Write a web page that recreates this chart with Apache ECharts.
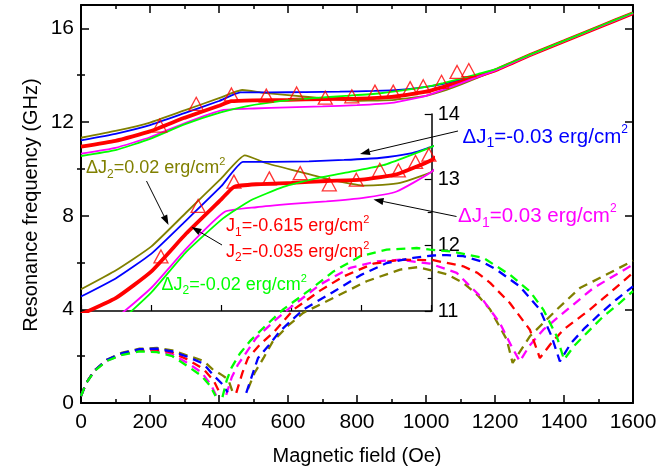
<!DOCTYPE html>
<html><head><meta charset="utf-8">
<script src="https://cdn.jsdelivr.net/npm/echarts@6/dist/echarts.min.js"></script>
<style>html,body{margin:0;padding:0;background:#fff}#c{width:672px;height:474px}</style>
</head><body><div id="c"></div>
<script>
// ---- Solid curves (upper mode): field (Oe) / frequency (GHz)
const hOlive = [0,100,200,300,400,467,529,624,710,767,805,860,910,967,1000,1050,1100,1150,1200,1300,1400,1500,1600];
const fOlive = [11.33,11.62,11.98,12.5,13.02,13.37,13.25,13.12,13.0,12.94,12.91,12.92,12.95,13.05,13.12,13.33,13.6,13.9,14.2,14.85,15.45,16.05,16.65];
const hBlue = [0,100,200,300,400,462,550,650,750,850,940,1000,1050,1100,1150,1200,1300,1400,1500,1600];
const fBlue = [11.22,11.5,11.87,12.38,12.9,13.27,13.27,13.28,13.3,13.33,13.4,13.5,13.63,13.8,14.0,14.22,14.85,15.45,16.05,16.65];
const hRed = [0,100,200,300,400,436,500,600,700,800,900,1000,1050,1100,1150,1200,1300,1400,1500,1600];
const fRed = [10.95,11.2,11.6,12.18,12.7,12.89,12.93,12.95,12.98,13.0,13.08,13.3,13.5,13.72,13.96,14.2,14.85,15.45,16.05,16.65];
const hMag = [0,100,200,300,410,500,600,700,800,900,1000,1050,1100,1150,1200,1300,1400,1500,1600];
const fMag = [10.65,10.9,11.35,11.95,12.51,12.58,12.63,12.67,12.72,12.82,13.12,13.38,13.65,13.93,14.2,14.85,15.45,16.05,16.65];
const hGreen = [0,100,200,300,405,482,577,672,767,862,1000,1050,1100,1150,1200,1300,1400,1500,1600];
const fGreen = [10.55,10.8,11.28,11.9,12.41,12.68,12.89,13.02,13.12,13.22,13.5,13.66,13.85,14.05,14.25,14.87,15.47,16.07,16.67];

// ---- Dashed curves (lower mode); null = gap
const hLoOlive = [0,15,40,75,120,170,220,265,310,355,383,410,427,440,460,484,503,530,556,600,644,732,828,925,975,1012,1060,1108,1150,1186,1234,1251,1301,1379,1446,1533,1600];
const fLoOlive = [0.3,0.85,1.4,1.85,2.15,2.32,2.35,2.25,2.02,1.8,1.42,1.18,1.0,0.45,null,0.6,1.28,1.95,2.63,3.3,3.85,4.49,5.2,5.7,5.8,5.68,5.5,5.13,4.6,3.99,2.71,1.71,2.85,3.99,4.91,5.56,6.08];
const hLoBlue = [0,15,40,75,120,170,220,265,310,355,383,410,425,450,479,513,542,576,644,732,809,886,963,1021,1060,1108,1160,1204,1272,1330,1364,1388,1420,1460,1500,1550,1600];
const fLoBlue = [0.3,0.85,1.4,1.85,2.13,2.3,2.32,2.2,1.97,1.68,1.2,0.8,0.45,null,0.43,1.92,2.42,3.06,3.99,4.75,5.45,5.98,6.2,6.3,6.32,6.27,6.05,5.7,4.98,3.99,2.85,1.78,2.55,3.2,3.75,4.4,4.98];
const hLoRed = [0,15,40,75,120,170,220,265,310,355,385,403,425,450,468,484,518,561,616,693,760,847,925,1021,1108,1150,1186,1243,1301,1330,1360,1398,1475,1540,1600];
const fLoRed = [0.3,0.85,1.4,1.83,2.1,2.27,2.28,2.15,1.85,1.45,0.95,0.4,null,0.43,1.3,1.92,2.49,3.06,3.99,4.8,5.4,5.95,6.12,6.1,5.84,5.55,5.13,4.27,3.13,1.92,2.5,3.13,3.99,4.8,5.56];
const hLoMag = [0,15,40,75,120,170,220,265,310,350,378,392,405,421,437,455,508,560,600,693,780,857,925,1012,1089,1157,1214,1248,1272,1300,1340,1398,1485,1600];
const fLoMag = [0.3,0.85,1.4,1.8,2.08,2.23,2.22,2.07,1.7,1.3,0.75,0.3,null,0.35,1.1,1.64,2.78,3.5,4.0,5.06,5.77,6.05,6.12,5.95,5.56,4.56,3.42,2.42,1.78,2.45,3.13,3.85,4.91,5.91];
const hLoGreen = [0,15,40,75,120,170,220,265,310,350,375,390,400,410,422,436,460,489,523,586,664,732,809,886,973,1012,1070,1166,1243,1301,1340,1379,1400,1430,1470,1514,1560,1600];
const fLoGreen = [0.3,0.85,1.38,1.8,2.06,2.2,2.17,2.0,1.56,1.15,0.72,0.3,null,0.25,0.95,1.5,2.1,2.63,3.13,4.0,4.84,5.62,6.27,6.55,6.62,6.55,6.48,6.2,5.48,4.77,3.99,2.85,1.85,2.45,3.05,3.7,4.25,4.78];

// ---- Experimental points (triangles)
const expH = [228,334,436,537,625,708,785,852,905,954,992,1045,1090,1124];
const expFMain = [11.85,12.78,13.18,13.13,13.22,13.04,13.1,13.3,13.3,13.45,13.53,13.72,14.14,14.22];
const expFInset = [11.83,12.6,12.97,13.02,13.1,12.93,13.0,13.15,13.14,13.27,13.38];

// ---- Ticks
const xTicksMain = [0,200,400,600,800,1000,1200,1400,1600];
const yMajor = [0,4,8,12,16];
const yMinor = [2,6,10,14];

const FONT = '"Liberation Sans", Arial, sans-serif';
const C = {olive:'#808000', blue:'#0000ff', red:'#ff0000', mag:'#ff00ff', green:'#00ff00'};

function mk(H, F) { return H.map((h, i) => [h, F[i] == null ? '-' : F[i]]); }

const solid = [
  [hOlive, fOlive, C.olive, 1.8],
  [hBlue, fBlue, C.blue, 1.8],
  [hRed, fRed, C.red, 3.8],
  [hMag, fMag, C.mag, 1.8],
  [hGreen, fGreen, C.green, 1.8]
];
const dashed = [
  [hLoOlive, fLoOlive, C.olive],
  [hLoMag, fLoMag, C.mag],
  [hLoRed, fLoRed, C.red],
  [hLoBlue, fLoBlue, C.blue],
  [hLoGreen, fLoGreen, C.green]
];

const series = [];
dashed.forEach(d => series.push({
  type:'line', xAxisIndex:0, yAxisIndex:0, data: mk(d[0], d[1]), showSymbol:false, symbol:'none',
  connectNulls:false, lineStyle:{color:d[2], width:2.3, type:[9,6]}, silent:true, z:2
}));
solid.forEach(s => series.push({
  type:'line', xAxisIndex:0, yAxisIndex:0, data: mk(s[0], s[1]), showSymbol:false, symbol:'none',
  smooth:0.15,
  lineStyle:{color:s[2], width:s[3]}, silent:true, z:3
}));
solid.forEach(s => series.push({
  type:'line', xAxisIndex:2, yAxisIndex:4, data: mk(s[0], s[1]), showSymbol:false, symbol:'none',
  smooth:0.15,
  lineStyle:{color:s[2], width:s[3]}, silent:true, clip:true, z:3
}));
series.push({
  type:'scatter', xAxisIndex:0, yAxisIndex:0, data: expH.map((h,i)=>[h, expFMain[i]]),
  symbol:'triangle', symbolSize:[14,13], itemStyle:{color:'rgba(0,0,0,0)', borderColor:C.red, borderWidth:1.3}, silent:true, z:4
});
series.push({
  type:'scatter', xAxisIndex:2, yAxisIndex:4, data: expFInset.map((f,i)=>[expH[i], f]),
  symbol:'triangle', symbolSize:[14,13], itemStyle:{color:'rgba(0,0,0,0)', borderColor:C.red, borderWidth:1.3}, silent:true, z:4
});

const axLine = w => ({show:true, onZero:false, lineStyle:{color:'#000', width:w}});
const noSplit = {splitLine:{show:false}, minorSplitLine:{show:false}};
const plain = v => String(v);

function arrow(x1, y1, x2, y2) {
  const a = Math.atan2(y2 - y1, x2 - x1), L = 10, W = 3.5;
  const bx = x2 - L * Math.cos(a), by = y2 - L * Math.sin(a);
  const px = -Math.sin(a) * W, py = Math.cos(a) * W;
  return [
    {type:'line', shape:{x1:x1, y1:y1, x2:bx, y2:by}, style:{stroke:'#000', lineWidth:1}, z:10},
    {type:'polygon', shape:{points:[[x2,y2],[bx+px,by+py],[bx-px,by-py]]}, style:{fill:'#000'}, z:10}
  ];
}
function label(x, y, color, text, fs) {
  fs = fs || 18;
  const base = {fontSize:fs, lineHeight:Math.round(fs * 1.33), fontFamily:FONT, fill:color};
  return {type:'text', x:x, y:y, z:10, style:{
    text:text, verticalAlign:'middle', align:'left', fill:color, font:fs + 'px ' + FONT,
    rich:{
      n: base,
      b: {fontSize:Math.round(fs * 0.66), lineHeight:Math.round(fs * 0.66), fontFamily:FONT, fill:color, verticalAlign:'bottom'},
      p: {fontSize:Math.round(fs * 0.6), lineHeight:Math.round(fs * 0.72), fontFamily:FONT, fill:color, verticalAlign:'top'}
    }
  }};
}

const graphic = [].concat(
  [label(86, 168.5, C.olive, '{n|ΔJ}{b|2}{n|=0.02 erg/cm}{p|2}'),
   label(462.5, 137, C.blue, '{n|ΔJ}{b|1}{n|=-0.03 erg/cm}{p|2}', 20.5),
   label(458, 216.5, C.mag, '{n|ΔJ}{b|1}{n|=0.03 erg/cm}{p|2}', 20.5),
   label(226, 226.5, C.red, '{n|J}{b|1}{n|=-0.615 erg/cm}{p|2}'),
   label(226, 252, C.red, '{n|J}{b|2}{n|=-0.035 erg/cm}{p|2}'),
   label(161.5, 285, C.green, '{n|ΔJ}{b|2}{n|=-0.02 erg/cm}{p|2}'),
   {type:'text', x:357, y:456, z:10, style:{text:'Magnetic field (Oe)', align:'center', verticalAlign:'middle', font:'20px ' + FONT, fill:'#000'}},
   {type:'text', x:31, y:205, rotation:Math.PI/2, z:10, style:{text:'Resonance frequency (GHz)', align:'center', verticalAlign:'middle', font:'20px ' + FONT, fill:'#000'}}
  ],
  arrow(146.5, 181, 168.5, 225),
  arrow(222, 245, 191.5, 227),
  arrow(458, 131, 360, 154),
  arrow(456.5, 216.5, 373.5, 199.5)
);

const option = {
  animation:false,
  backgroundColor:'#fff',
  grid:[
    {left:81, right:39, top:5, bottom:71, containLabel:false, outerBoundsMode:'none'},
    {left:81, right:240.3, top:114, bottom:163, containLabel:false, outerBoundsMode:'none'}
  ],
  xAxis:[
    Object.assign({gridIndex:0, type:'value', position:'bottom', min:0, max:1600, interval:200,
      axisLine:axLine(2), axisTick:{show:true, inside:true, length:8, lineStyle:{color:'#000', width:1.5}},
      minorTick:{show:true, splitNumber:2, length:4, lineStyle:{color:'#000', width:1.5}},
      axisLabel:{show:true, fontSize:21, color:'#000', margin:9, fontFamily:FONT, customValues:xTicksMain, formatter:plain}}, noSplit),
    Object.assign({gridIndex:0, type:'value', position:'top', min:0, max:1600, interval:200,
      axisLine:axLine(2), axisTick:{show:true, inside:true, length:8, lineStyle:{color:'#000', width:1.5}},
      minorTick:{show:true, splitNumber:2, length:4, lineStyle:{color:'#000', width:1.5}},
      axisLabel:{show:false}}, noSplit),
    Object.assign({gridIndex:1, type:'value', position:'bottom', min:0, max:1000, interval:200,
      axisLine:axLine(1.5), axisTick:{show:true, inside:true, length:6, lineStyle:{color:'#000', width:1.2}},
      axisLabel:{show:false}}, noSplit)
  ],
  yAxis:[
    Object.assign({gridIndex:0, type:'value', position:'left', min:0, max:17,
      axisLine:axLine(2), axisTick:{show:true, inside:true, length:8, customValues:yMajor, lineStyle:{color:'#000', width:1.5}},
      axisLabel:{show:true, customValues:yMajor, fontSize:21, color:'#000', margin:7, fontFamily:FONT, formatter:plain}}, noSplit),
    Object.assign({gridIndex:0, type:'value', position:'right', min:0, max:17,
      axisLine:axLine(2), axisTick:{show:true, inside:true, length:8, customValues:yMajor, lineStyle:{color:'#000', width:1.5}},
      axisLabel:{show:false}}, noSplit),
    Object.assign({gridIndex:0, type:'value', position:'left', min:0, max:17,
      axisLine:{show:false}, axisTick:{show:true, inside:true, length:4, customValues:yMinor, lineStyle:{color:'#000', width:1.5}},
      axisLabel:{show:false}}, noSplit),
    Object.assign({gridIndex:0, type:'value', position:'right', min:0, max:17,
      axisLine:{show:false}, axisTick:{show:true, inside:true, length:4, customValues:yMinor, lineStyle:{color:'#000', width:1.5}},
      axisLabel:{show:false}}, noSplit),
    Object.assign({gridIndex:1, type:'value', position:'right', min:11, max:14, interval:1,
      axisLine:axLine(1.5), axisTick:{show:true, inside:true, length:7, lineStyle:{color:'#000', width:1.2}},
      minorTick:{show:true, splitNumber:2, length:4, lineStyle:{color:'#000', width:1.2}},
      axisLabel:{show:true, fontSize:20, color:'#000', margin:6, fontFamily:FONT, formatter:plain}}, noSplit)
  ],
  series:series,
  graphic:graphic
};

const chart = echarts.init(document.getElementById('c'), null, {renderer:'canvas', width:672, height:474});
chart.setOption(option);
</script>
</body></html>
